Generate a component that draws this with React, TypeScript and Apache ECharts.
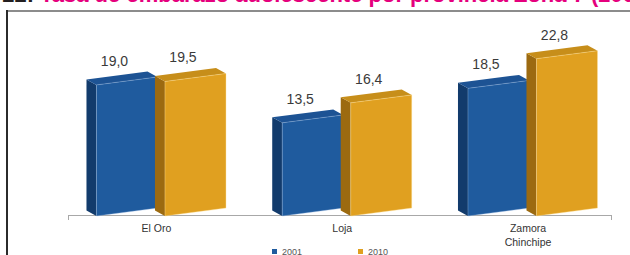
import React, { useEffect, useRef } from "react";
import * as echarts from "echarts";

const categories = ["El Oro", "Loja", "Zamora\nChinchipe"];
const seriesNames = ["2001", "2010"];
const values2001 = [19.0, 13.5, 18.5];
const values2010 = [19.5, 16.4, 22.8];
const titleLead = "Gráfico 22:";
const titleText = "Tasa de embarazo adolescente por provincia Zona 7 (2001-2010)";

const FONT = '"Liberation Sans", Arial, Helvetica, sans-serif';

const blueColors = { front: "#1f5b9e", side: "#123b6c", top: "#1d5394", stroke: "rgba(160,190,230,0.45)" };
const orangeColors = { front: "#e0a020", side: "#9c6a10", top: "#c78e1a", stroke: "rgba(255,225,150,0.5)" };

function makeBar(offsetL: number, width: number, c: any) {
  return (params: any, api: any) => {
    const cat = api.value(0);
    const v = api.value(1);
    const top = api.coord([cat, v]);
    const base = api.coord([cat, 0]);
    const band = api.size([1, 0])[0];
    const s = band / 185.75;
    const L = top[0] + offsetL * s;
    const R = L + width * s;
    const yT = top[1];
    const y0 = base[1];
    const rise = 0.13 * (R - L);
    const dx = -10;
    const dy = -5.5;
    return {
      type: "group",
      children: [
        {
          type: "polygon",
          shape: { points: [[L, yT], [L + dx, yT + dy], [L + dx, y0 + dy], [L, y0]] },
          style: { fill: c.side },
        },
        {
          type: "polygon",
          shape: { points: [[L, yT], [R, yT - rise], [R + dx, yT - rise + dy], [L + dx, yT + dy]] },
          style: { fill: c.top },
        },
        {
          type: "polygon",
          shape: { points: [[L, yT], [R, yT - rise], [R, y0 - rise], [L, y0]] },
          style: { fill: c.front, stroke: c.stroke, lineWidth: 0.8 },
        },
        {
          type: "text",
          x: L + 18,
          y: yT - 24,
          style: {
            text: v.toFixed(1).replace(".", ","),
            fill: "#3a3a3a",
            font: `14px ${FONT}`,
            align: "center",
            verticalAlign: "middle",
          },
        },
      ],
    };
  };
}

export default function App() {
  const ref = useRef<HTMLDivElement>(null);
  useEffect(() => {
    if (!ref.current) return;
    const chart = echarts.init(ref.current, null, { renderer: "svg" });
    chart.setOption({
      animation: false,
      backgroundColor: "#ffffff",
      color: [blueColors.front, orangeColors.front],
      grid: { left: 63.6, right: 9.15, top: 43.5, bottom: 39 },
      xAxis: {
        type: "category",
        data: categories,
        axisLine: { show: false },
        axisTick: { show: false },
        axisLabel: { color: "#333333", fontSize: 10.5, fontFamily: FONT, margin: 5, lineHeight: 14 },
      },
      yAxis: { type: "value", min: 0, max: 25, show: false },
      legend: {
        data: seriesNames.map((n) => ({ name: n, icon: "rect" })),
        left: 272,
        top: 247,
        padding: 0,
        itemWidth: 5,
        itemHeight: 5,
        itemGap: 56,
        textStyle: { fontSize: 9, color: "#555555", fontFamily: FONT },
      },
      graphic: [
        {
          type: "text",
          x: 34,
          y: -6,
          style: { text: titleLead, fill: "#231f20", font: `bold 22px ${FONT}`, align: "right", verticalAlign: "middle" },
        },
        {
          type: "text",
          x: 40,
          y: -6,
          style: { text: titleText, fill: "#e5007d", font: `bold 22px ${FONT}`, align: "left", verticalAlign: "middle" },
        },
        { type: "line", shape: { x1: 7, y1: 11, x2: 630, y2: 11 }, style: { stroke: "#8c8c8c", lineWidth: 2 } },
        { type: "line", shape: { x1: 7, y1: 10, x2: 7, y2: 255 }, style: { stroke: "#2b2b2b", lineWidth: 2 } },
        { type: "line", shape: { x1: 68, y1: 215.5, x2: 612, y2: 215.5 }, style: { stroke: "#a8a8a8", lineWidth: 1 } },
        { type: "line", shape: { x1: 68.5, y1: 215.5, x2: 68.5, y2: 220 }, style: { stroke: "#a8a8a8", lineWidth: 1 } },
        { type: "line", shape: { x1: 611.5, y1: 215.5, x2: 611.5, y2: 220 }, style: { stroke: "#a8a8a8", lineWidth: 1 } },
      ],
      series: [
        {
          name: seriesNames[0],
          type: "custom",
          clip: false,
          itemStyle: { color: blueColors.front },
          encode: { x: 0, y: 1 },
          data: values2001.map((v, i) => [i, v]),
          renderItem: makeBar(-60, 61, blueColors),
        },
        {
          name: seriesNames[1],
          type: "custom",
          clip: false,
          itemStyle: { color: orangeColors.front },
          encode: { x: 0, y: 1 },
          data: values2010.map((v, i) => [i, v]),
          renderItem: makeBar(8.5, 61, orangeColors),
        },
      ],
    });
    return () => chart.dispose();
  }, []);
  return (
    <div
      ref={ref}
      style={{ position: "fixed", left: 0, top: 0, width: 630, height: 255 }}
    />
  );
}
